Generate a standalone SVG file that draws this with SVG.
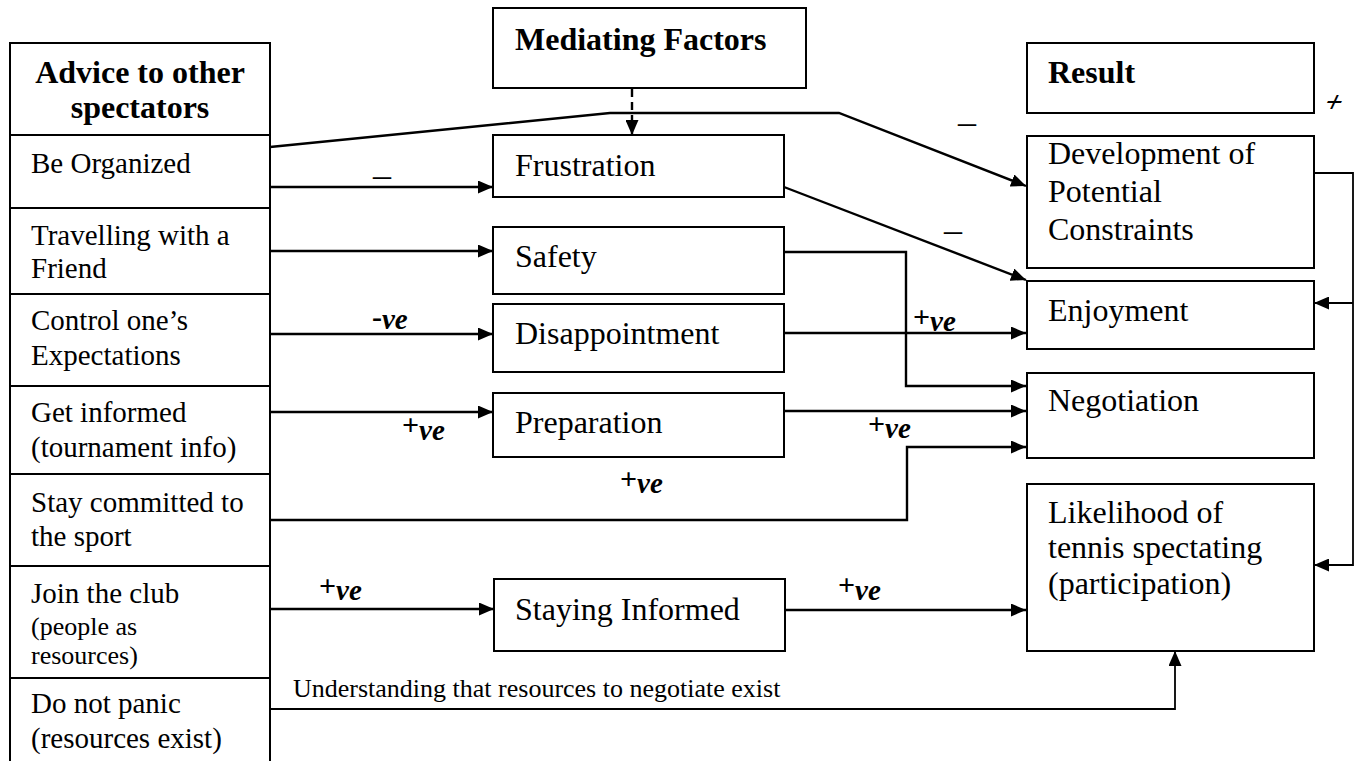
<svg xmlns="http://www.w3.org/2000/svg" width="1360" height="761" viewBox="0 0 1360 761">
<style>
.bg{fill:#fff}
.box{fill:#fff;stroke:#000;stroke-width:2}
.t{font-family:"Liberation Serif","Times New Roman",serif;font-size:29px;fill:#000}
.tm{font-family:"Liberation Serif","Times New Roman",serif;font-size:32px;fill:#000}
.h{font-family:"Liberation Serif","Times New Roman",serif;font-size:32px;font-weight:bold;fill:#000}
.s{font-family:"Liberation Serif","Times New Roman",serif;font-size:26px;fill:#000}
.c{fill:none;stroke:#000;stroke-width:2.4}
.thin{fill:none;stroke:#000;stroke-width:1.8}
.dash{stroke-dasharray:8 5}
.pv{font-family:"Liberation Serif","Times New Roman",serif;font-size:30px;font-weight:bold;fill:#000}
.pv tspan{font-style:italic;font-size:29px}
.mn{font-family:"Liberation Serif","Times New Roman",serif;font-size:36px;fill:#000}
</style>
<defs>
<marker id="ah" markerUnits="userSpaceOnUse" markerWidth="15" markerHeight="13" refX="15" refY="6.5" orient="auto">
<path d="M0,0 L15,6.5 L0,13 z" fill="#000"/>
</marker>
</defs>
<rect class="bg" x="0" y="0" width="1360" height="761"/>

<g id="connectors">
<path class="c" d="M270,187 H493" marker-end="url(#ah)"/>
<path class="c" d="M270,147 L610,113 H839 L1026,186" marker-end="url(#ah)"/>
<path class="c dash" d="M632,89 V135" marker-end="url(#ah)"/>
<path class="c" d="M270,251 H493" marker-end="url(#ah)"/>
<path class="c" d="M270,334 H493" marker-end="url(#ah)"/>
<path class="c" d="M270,412 H493" marker-end="url(#ah)"/>
<path class="c" d="M784,187 L1026,280" marker-end="url(#ah)"/>
<path class="c" d="M784,252 H906 V386 H1026" marker-end="url(#ah)"/>
<path class="c" d="M784,333 H1026" marker-end="url(#ah)"/>
<path class="c" d="M784,411 H1026" marker-end="url(#ah)"/>
<path class="c" d="M270,520 H907 V447 H1026" marker-end="url(#ah)"/>
<path class="c" d="M270,609 H494" marker-end="url(#ah)"/>
<path class="c" d="M785,610 H1026" marker-end="url(#ah)"/>
<path class="thin" d="M270,709 H1175 V651" marker-end="url(#ah)"/>
<path class="thin" d="M1314,173 H1353 V565 H1314" marker-end="url(#ah)"/>
<path class="thin" d="M1353,303 H1314" marker-end="url(#ah)"/>
</g>

<g id="labels">
<text class="mn" x="373" y="187">–</text>
<text class="mn" x="958" y="134">–</text>
<text class="mn" x="944" y="242">–</text>
<text class="pv" x="372" y="327">-<tspan dy="2">ve</tspan></text>
<text class="pv" x="402" y="435">+<tspan dy="5">ve</tspan></text>
<text class="pv" x="913" y="327">+<tspan dy="4">ve</tspan></text>
<text class="pv" x="868" y="434">+<tspan dy="4">ve</tspan></text>
<text class="pv" x="620" y="489">+<tspan dy="4">ve</tspan></text>
<text class="pv" x="319" y="596">+<tspan dy="4">ve</tspan></text>
<text class="pv" x="838" y="595">+<tspan dy="5">ve</tspan></text>
<text class="pv" transform="translate(1333,104) skewX(-25)" x="-8" y="8">+</text>
<text class="s" x="293" y="697">Understanding that resources to negotiate exist</text>
</g>

<g id="advice-header"><rect class="box" x="10" y="43" width="260" height="92"/>
<text class="h" x="140" y="83" text-anchor="middle">Advice to other</text>
<text class="h" x="140" y="118" text-anchor="middle">spectators</text></g>
<g id="be-organized"><rect class="box" x="10" y="135" width="260" height="73"/>
<text class="t" x="31" y="173">Be Organized</text></g>
<g id="travelling"><rect class="box" x="10" y="208" width="260" height="86"/>
<text class="t" x="31" y="245">Travelling with a</text>
<text class="t" x="31" y="278">Friend</text></g>
<g id="control"><rect class="box" x="10" y="294" width="260" height="92"/>
<text class="t" x="31" y="330">Control one’s</text>
<text class="t" x="31" y="365">Expectations</text></g>
<g id="get-informed"><rect class="box" x="10" y="386" width="260" height="88"/>
<text class="t" x="31" y="422">Get informed</text>
<text class="t" x="31" y="457">(tournament info)</text></g>
<g id="stay-committed"><rect class="box" x="10" y="474" width="260" height="92"/>
<text class="t" x="31" y="512">Stay committed to</text>
<text class="t" x="31" y="546">the sport</text></g>
<g id="join-club"><rect class="box" x="10" y="566" width="260" height="112"/>
<text class="t" x="31" y="603">Join the club</text>
<text class="s" x="31" y="635">(people as</text>
<text class="s" x="31" y="664">resources)</text></g>
<g id="do-not-panic"><rect class="box" x="10" y="678" width="260" height="100"/>
<text class="t" x="31" y="713">Do not panic</text>
<text class="t" x="31" y="748">(resources exist)</text></g>

<g id="mediating-factors"><rect class="box" x="493" y="8" width="313" height="80"/>
<text class="h" x="515" y="50">Mediating Factors</text></g>
<g id="frustration"><rect class="box" x="493" y="135" width="291" height="62"/>
<text class="tm" x="515" y="176">Frustration</text></g>
<g id="safety"><rect class="box" x="493" y="227" width="291" height="67"/>
<text class="tm" x="515" y="267">Safety</text></g>
<g id="disappointment"><rect class="box" x="493" y="304" width="291" height="68"/>
<text class="tm" x="515" y="344">Disappointment</text></g>
<g id="preparation"><rect class="box" x="493" y="393" width="291" height="64"/>
<text class="tm" x="515" y="433">Preparation</text></g>
<g id="staying-informed"><rect class="box" x="494" y="579" width="291" height="72"/>
<text class="tm" x="515" y="620">Staying Informed</text></g>

<g id="result"><rect class="box" x="1027" y="43" width="287" height="70"/>
<text class="h" x="1048" y="83">Result</text></g>
<g id="development"><rect class="box" x="1027" y="136" width="287" height="132"/>
<text class="tm" x="1048" y="164">Development of</text>
<text class="tm" x="1048" y="202">Potential</text>
<text class="tm" x="1048" y="240">Constraints</text></g>
<g id="enjoyment"><rect class="box" x="1027" y="281" width="287" height="68"/>
<text class="tm" x="1048" y="321">Enjoyment</text></g>
<g id="negotiation"><rect class="box" x="1027" y="373" width="287" height="85"/>
<text class="tm" x="1048" y="411">Negotiation</text></g>
<g id="likelihood"><rect class="box" x="1027" y="484" width="287" height="167"/>
<text class="tm" x="1048" y="523">Likelihood of</text>
<text class="tm" x="1048" y="558">tennis spectating</text>
<text class="tm" x="1048" y="594">(participation)</text></g>
</svg>
